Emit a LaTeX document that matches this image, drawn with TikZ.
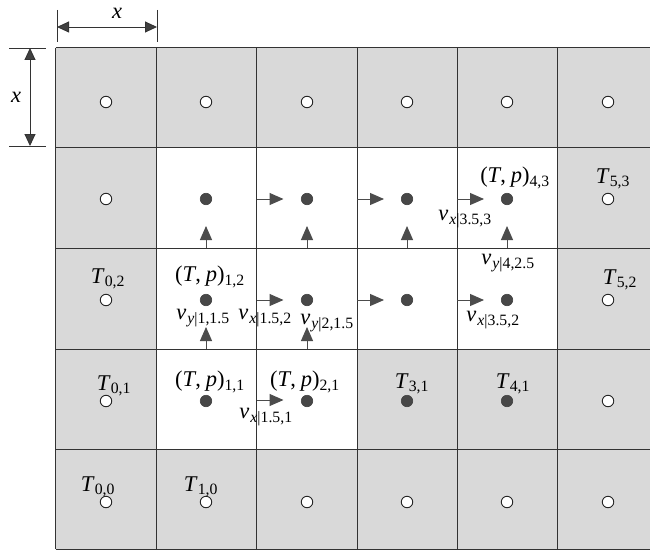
\documentclass[tikz,border=0pt]{standalone}
\usepackage{fontspec}
\setmainfont{Liberation Serif}
\usetikzlibrary{arrows.meta}
\newcommand\Tl[1]{\textit{T}\textsubscript{#1}}
\newcommand\TPl[1]{(\textit{T},\hspace{0.22em}\textit{p})\textsubscript{#1}}
\newcommand\Vl[2]{\textit{v}\kern0.05em\textsubscript{\textit{#1}|#2}}
\begin{document}
\begin{tikzpicture}[x=1pt,y=-1pt,
  font=\fontsize{22.5}{26}\selectfont,
  gridline/.style={draw=black!80,line width=1pt},
  odot/.style={circle,draw=black!85,fill=white,line width=0.9pt,minimum size=11.5pt,inner sep=0pt},
  fdot/.style={circle,draw=black!75,fill=black!72,line width=0.6pt,minimum size=11.5pt,inner sep=0pt},
  vel/.style={draw=black!70,line width=1pt,-{Triangle[length=14pt,width=12pt,fill=black!70]}},
  dim/.style={draw=black!80,line width=0.9pt,{Triangle[length=12pt,width=11pt,fill=black!75]}-{Triangle[length=12pt,width=11pt,fill=black!75]}},
  ext/.style={draw=black!80,line width=0.8pt},
  lab/.style={inner sep=0pt}]
\useasboundingbox (0,0) rectangle (650,551);
% cells
\fill[black!15] (55.5,48) rectangle (650,549);
\fill[white] (156,147) rectangle (557.5,349);
\fill[white] (156,349) rectangle (357,449);
% grid
\foreach \gx in {55.5,156,256.5,357,457,557.5}
  \draw[gridline] (\gx,48) -- (\gx,549);
\foreach \gy in {48,147,248,349,449,549}
  \draw[gridline] (55.5,\gy) -- (650,\gy);
% dots
\foreach \x/\i in {106/0,206/1,307/2,407/3,507/4,608/5}{
  \foreach \y/\j in {502/0,401/1,300/2,199/3,102/4}{
    \pgfmathtruncatemacro\filledq{(\i>0)*(\i<5)*(\j>0)*(\j<4)}
    \ifnum\filledq=1
      \node[fdot] (d\i\j) at (\x,\y) {};
    \else
      \node[odot] (d\i\j) at (\x,\y) {};
    \fi
  }
}
% horizontal velocity arrows
\foreach \lx/\n in {256.5/a,357/b,457/c}{
  \coordinate (h3\n s) at (\lx,199);
  \coordinate (h3\n e) at (\lx+27,199);
  \draw[vel] (h3\n s) -- (h3\n e);
  \coordinate (h2\n s) at (\lx,300);
  \coordinate (h2\n e) at (\lx+27,300);
  \draw[vel] (h2\n s) -- (h2\n e);
}
\coordinate (h1as) at (256.5,400);
\coordinate (h1ae) at (283.5,400);
\draw[vel] (h1as) -- (h1ae);
% vertical velocity arrows
\foreach \x/\i in {206/1,307/2,407/3,507/4}{
  \coordinate (v3\i s) at (\x,248);
  \coordinate (v3\i e) at (\x,226);
  \draw[vel] (v3\i s) -- (v3\i e);
}
\foreach \x/\i in {206/1,307/2}{
  \coordinate (v2\i s) at (\x,349);
  \coordinate (v2\i e) at (\x,327);
  \draw[vel] (v2\i s) -- (v2\i e);
}
% labels
\node[lab] (l53) at (613,179) {\Tl{5,3}};
\node[lab] (l52) at (620,280) {\Tl{5,2}};
\node[lab] (l02) at (108,279) {\Tl{0,2}};
\node[lab] (l12) at (210,277) {\TPl{1,2}};
\node[lab] (vy115) at (203,318) {\Vl{y}{1,1.5}};
\node[lab] (vx152) at (265,318) {\Vl{x}{1.5,2}};
\node[lab] (vy215) at (327,323) {\Vl{y}{2,1.5}};
\node[lab] (l43) at (515,178) {\TPl{4,3}};
\node[lab] (vx353) at (465,219) {\Vl{x}{3.5,3}};
\node[lab] (vy425) at (508,263) {\Vl{y}{4,2.5}};
\node[lab] (vx352) at (493,320) {\Vl{x}{3.5,2}};
\node[lab] (l01) at (114,386) {\Tl{0,1}};
\node[lab] (l11) at (210,382) {\TPl{1,1}};
\node[lab] (l21) at (305,382) {\TPl{2,1}};
\node[lab] (vx151) at (266,417) {\Vl{x}{1.5,1}};
\node[lab] (l00) at (98,487) {\Tl{0,0}};
\node[lab] (l10) at (201,487) {\Tl{1,0}};
\node[lab] (l31) at (412,384) {\Tl{3,1}};
\node[lab] (l41) at (513,384) {\Tl{4,1}};
% dimensions
\coordinate (dh1) at (57,27);
\coordinate (dh2) at (157,27);
\coordinate (eh1a) at (57,10);
\coordinate (eh1b) at (57,42);
\coordinate (eh2a) at (157,10);
\coordinate (eh2b) at (157,42);
\draw[ext] (eh1a) -- (eh1b);
\draw[ext] (eh2a) -- (eh2b);
\draw[dim] (dh1) -- (dh2);
\node[lab] (dhx) at (117,13) {\textit{x}};
\coordinate (dv1) at (30,48);
\coordinate (dv2) at (30,146);
\coordinate (ev1a) at (9,48);
\coordinate (ev1b) at (46,48);
\coordinate (ev2a) at (9,146);
\coordinate (ev2b) at (46,146);
\draw[ext] (ev1a) -- (ev1b);
\draw[ext] (ev2a) -- (ev2b);
\draw[dim] (dv1) -- (dv2);
\node[lab] (dvx) at (16,97) {\textit{x}};
\end{tikzpicture}
\end{document}
